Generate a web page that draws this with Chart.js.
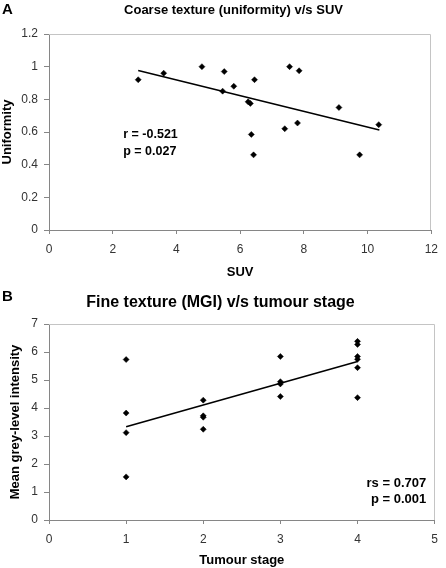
<!DOCTYPE html>
<html>
<head>
<meta charset="utf-8">
<script src="https://cdn.jsdelivr.net/npm/chart.js@4.4.1/dist/chart.umd.min.js"></script>
<style>
  html, body { margin: 0; padding: 0; background: #fff; }
  #chartA { position: absolute; left: 0; top: 0; }
  #chartB { position: absolute; left: 0; top: 282px; }
</style>
</head>
<body>
<canvas id="chartA" width="446" height="282"></canvas>
<canvas id="chartB" width="446" height="286"></canvas>
<script>
// Panel A: uniformity vs SUV
const suvValues = [2.8, 3.6, 4.8, 5.5, 5.45, 5.8, 6.45, 6.25, 6.32, 6.35, 6.42, 7.4, 7.55, 7.8, 7.85, 9.1, 9.75, 10.35];
const uniformityValues = [0.92, 0.96, 1.0, 0.97, 0.85, 0.88, 0.92, 0.785, 0.775, 0.585, 0.46, 0.62, 1.0, 0.655, 0.975, 0.75, 0.46, 0.645];
const trendAx = [2.8, 10.37];
const trendAy = [0.976, 0.612];
const xTicksA = [0, 2, 4, 6, 8, 10, 12];
const yTicksA = [0, 0.2, 0.4, 0.6, 0.8, 1, 1.2];

// Panel B: MGI vs tumour stage
const stageValues = [1, 1, 1, 1, 2, 2, 2, 2, 3, 3, 3, 3, 4, 4, 4, 4, 4, 4];
const mgiValues = [5.73, 3.82, 3.12, 1.54, 4.28, 3.72, 3.67, 3.24, 5.84, 4.94, 4.86, 4.41, 6.38, 6.27, 5.84, 5.74, 5.44, 4.37];
const trendBx = [1, 4];
const trendBy = [3.33, 5.66];
const xTicksB = [0, 1, 2, 3, 4, 5];
const yTicksB = [0, 1, 2, 3, 4, 5, 6, 7];

const FONT = 'Arial, "Liberation Sans", sans-serif';
const axisGray = '#868686';

function pts(xs, ys) {
    return xs.map((x, i) => ({ x: x, y: ys[i] }));
}

// draws the light top/right frame of the plot area
const framePlugin = {
    id: 'frame',
    beforeDatasetsDraw(chart) {
        const a = chart.chartArea;
        const ctx = chart.ctx;
        ctx.save();
        ctx.strokeStyle = '#c4c4c4';
        ctx.lineWidth = 1;
        ctx.beginPath();
        const t = Math.round(a.top) + 0.5;
        const r = Math.round(a.right) - 0.5;
        ctx.moveTo(a.left, t);
        ctx.lineTo(r, t);
        ctx.lineTo(r, a.bottom);
        ctx.stroke();
        ctx.restore();
    }
};

// texts: panel letter, title, statistics
function textPlugin(items) {
    return {
        id: 'texts',
        afterDraw(chart) {
            const ctx = chart.ctx;
            ctx.save();
            ctx.fillStyle = '#000';
            items.forEach(it => {
                ctx.font = it.font;
                ctx.textAlign = it.align || 'left';
                ctx.textBaseline = it.baseline || 'alphabetic';
                let x = it.x, y = it.y;
                if (it.data) {
                    x = chart.scales.x.getPixelForValue(it.x);
                    y = chart.scales.y.getPixelForValue(it.y);
                }
                ctx.fillText(it.text, x, y);
            });
            ctx.restore();
        }
    };
}

function makeScales(xTicks, yTicks, xTitle, yTitle, xHeight, xTitlePad, yTitlePad) {
    const tickFont = { family: FONT, size: 12 };
    const titleFont = { family: FONT, size: 13, weight: 'bold', lineHeight: 1.2 };
    return {
        x: {
            type: 'linear',
            min: xTicks[0],
            max: xTicks[xTicks.length - 1],
            afterBuildTicks: s => { s.ticks = xTicks.map(v => ({ value: v })); },
            afterFit: s => { s.height = xHeight; },
            grid: { drawOnChartArea: false, color: axisGray, tickLength: 4 },
            border: { color: axisGray, width: 1 },
            ticks: { font: tickFont, color: '#333', padding: 8, maxRotation: 0 },
            title: { display: true, text: xTitle, font: titleFont, color: '#000', padding: { top: 0, bottom: xTitlePad } }
        },
        y: {
            type: 'linear',
            min: yTicks[0],
            max: yTicks[yTicks.length - 1],
            afterBuildTicks: s => { s.ticks = yTicks.map(v => ({ value: v })); },
            afterFit: s => { s.width = 49; },
            grid: { drawOnChartArea: false, color: axisGray, tickLength: 5 },
            border: { color: axisGray, width: 1 },
            ticks: { font: tickFont, color: '#333', padding: 6, callback: v => String(v) },
            title: { display: true, text: yTitle, font: titleFont, color: '#000', padding: { top: yTitlePad, bottom: 0 } }
        }
    };
}

function makeDatasets(xs, ys, tx, ty) {
    return [{
        data: pts(xs, ys),
        pointStyle: 'rectRot',
        pointRadius: 3,
        pointBorderWidth: 0.5,
        pointBackgroundColor: '#000',
        pointBorderColor: '#000'
    }, {
        data: pts(tx, ty),
        showLine: true,
        borderColor: '#000',
        borderWidth: 1.6,
        pointRadius: 0
    }];
}

const common = {
    responsive: false,
    animation: false,
    plugins: { legend: { display: false }, tooltip: { enabled: false } }
};

new Chart(document.getElementById('chartA'), {
    type: 'scatter',
    data: { datasets: makeDatasets(suvValues, uniformityValues, trendAx, trendAy) },
    options: Object.assign({}, common, {
        layout: { padding: { top: 34, right: 7, left: 0, bottom: 0 } },
        scales: makeScales(xTicksA, yTicksA, 'SUV', 'Uniformity', 52, 2, 0)
    }),
    plugins: [framePlugin, textPlugin([
        { text: 'A', x: 2, y: 14, font: 'bold 15px ' + FONT },
        { text: 'Coarse texture (uniformity) v/s SUV', x: 233.5, y: 14, align: 'center', font: 'bold 13px ' + FONT },
        { text: 'r = -0.521', x: 2.33, y: 0.585, data: true, baseline: 'middle', font: 'bold 12.5px ' + FONT },
        { text: 'p = 0.027', x: 2.33, y: 0.483, data: true, baseline: 'middle', font: 'bold 12.5px ' + FONT }
    ])]
});

new Chart(document.getElementById('chartB'), {
    type: 'scatter',
    data: { datasets: makeDatasets(stageValues, mgiValues, trendBx, trendBy) },
    options: Object.assign({}, common, {
        layout: { padding: { top: 42, right: 7, left: 0, bottom: 0 } },
        scales: makeScales(xTicksB, yTicksB, 'Tumour stage', 'Mean grey-level intensity', 48, 0, 8)
    }),
    plugins: [framePlugin, textPlugin([
        { text: 'B', x: 2, y: 19, font: 'bold 15px ' + FONT },
        { text: 'Fine texture (MGI) v/s tumour stage', x: 220.5, y: 25, align: 'center', font: 'bold 16px ' + FONT },
        { text: 'rs = 0.707', x: 4.89, y: 1.30, data: true, align: 'right', baseline: 'middle', font: 'bold 13px ' + FONT },
        { text: 'p = 0.001', x: 4.89, y: 0.73, data: true, align: 'right', baseline: 'middle', font: 'bold 13px ' + FONT }
    ])]
});
</script>
</body>
</html>
